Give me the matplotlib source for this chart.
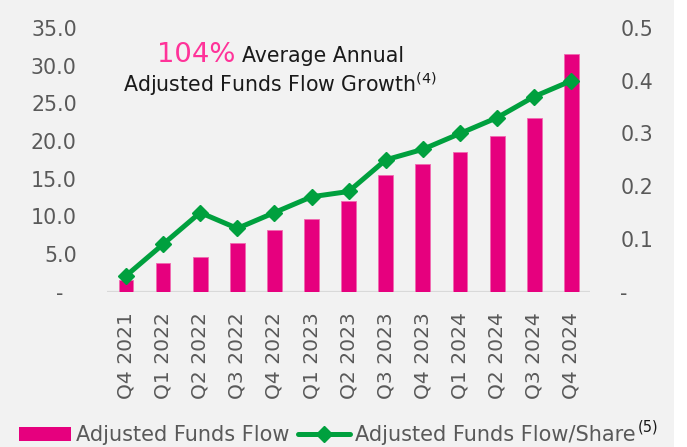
"""
Adjusted funds flow by quarter, bars plus per-share line on a second axis
"""

import matplotlib
matplotlib.use('Agg')  # Non-interactive backend
import matplotlib.pyplot as plt
from matplotlib.patches import Rectangle, Patch
from matplotlib.lines import Line2D
from matplotlib.ticker import FuncFormatter

# Chart data
quarters = ['Q4 2021', 'Q1 2022', 'Q2 2022', 'Q3 2022', 'Q4 2022', 'Q1 2023',
            'Q2 2023', 'Q3 2023', 'Q4 2023', 'Q1 2024', 'Q2 2024', 'Q3 2024',
            'Q4 2024']
funds_flow = [1.5, 3.8, 4.6, 6.4, 8.2, 9.7, 12.0, 15.5, 17.0, 18.5, 20.7, 23.1, 31.6]
flow_per_share = [0.03, 0.09, 0.15, 0.12, 0.15, 0.18, 0.19, 0.25, 0.27, 0.30,
                  0.33, 0.37, 0.40]
left_ticks = [0, 5, 10, 15, 20, 25, 30, 35]
right_ticks = [0, 0.1, 0.2, 0.3, 0.4, 0.5]

BAR_COLOR = '#E6007E'
LINE_COLOR = '#00A03E'
TEXT_GRAY = '#595959'
W, H = 687, 447

plt.rcParams['font.family'] = ['DejaVu Sans']

fig = plt.figure(figsize=(W / 100, H / 100), dpi=100, facecolor='white')

# Light gray panel behind the chart (white strip on the right edge)
fig.patches.append(Rectangle((0, 0), 673.5 / W, 1, transform=fig.transFigure,
                             facecolor='#F2F2F2', edgecolor='none', zorder=-5))

ax = fig.add_axes([107.4 / W, 1 - 291.7 / H, 482.5 / W, 263.7 / H])
ax.set_facecolor('none')
x = list(range(len(quarters)))
ax.bar(x, funds_flow, width=0.4, color=BAR_COLOR, edgecolor='#F06AB0',
       linewidth=0.6, zorder=2)
ax.set_xlim(-0.5, len(quarters) - 0.5)
ax.set_ylim(0, 35)
ax.set_yticks(left_ticks)
ax.yaxis.set_major_formatter(FuncFormatter(lambda v, p: '-  ' if v == 0 else f'{v:.1f}'))
ax.set_xticks(x)
ax.set_xticklabels(quarters, rotation=90)

# Per-share line on right axis
ax2 = ax.twinx()
ax2.plot(x, flow_per_share, color=LINE_COLOR, linewidth=3.6, marker='D',
         markersize=8.5, markeredgecolor=LINE_COLOR, markerfacecolor=LINE_COLOR,
         solid_joinstyle='round', solid_capstyle='round')
ax2.set_ylim(0, 0.5)
ax2.set_yticks(right_ticks)
ax2.yaxis.set_major_formatter(FuncFormatter(lambda v, p: '-' if v == 0 else f'{v:.1f}'))

for a in (ax, ax2):
    for side in ('top', 'left', 'right', 'bottom'):
        a.spines[side].set_visible(False)
    a.tick_params(axis='y', length=0, pad=22, labelsize=14.8, labelcolor=TEXT_GRAY)
ax.tick_params(axis='x', length=0, pad=15, labelsize=14.6, labelcolor=TEXT_GRAY)

# Baseline
ax.axhline(0, color='#D9D9D9', linewidth=1.6, zorder=1)

# Growth annotation
fig.text(235 / W, 1 - 61.7 / H, '104%', color='#FF3399', fontsize=19.7,
         ha='right', va='baseline')
fig.text(242 / W, 1 - 61.7 / H, 'Average Annual', color='#1A1A1A', fontsize=14.8,
         ha='left', va='baseline')
fig.text(280 / W, 1 - 91.7 / H, r'Adjusted Funds Flow Growth$^{(4)}$',
         color='#1A1A1A', fontsize=14.8, ha='center', va='baseline')

# Legend
handles = [
    Patch(facecolor=BAR_COLOR, edgecolor='none'),
    Line2D([0], [0], color=LINE_COLOR, linewidth=3.6, marker='D', markersize=8,
           solid_capstyle='round'),
]
labels = ['Adjusted Funds Flow', 'Adjusted Funds Flow/Share']
leg = fig.legend(handles, labels, loc='center left', bbox_to_anchor=(19 / W, 1 - 435 / H),
                 ncol=2, frameon=False, fontsize=15.0, labelcolor=TEXT_GRAY,
                 handlelength=2.5, handleheight=0.67, handletextpad=0.25,
                 columnspacing=0.4, borderpad=0, borderaxespad=0)

# footnote marker placed right after the second legend entry
fig.canvas.draw()
bb = leg.get_texts()[1].get_window_extent()
fig.text((bb.x1 + 2) / W, (bb.y1 + 5) / H, '(5)', color='#1A1A1A', fontsize=10.5,
         ha='left', va='top')

plt.savefig('out.png', dpi=100, facecolor=fig.get_facecolor())
plt.close(fig)
